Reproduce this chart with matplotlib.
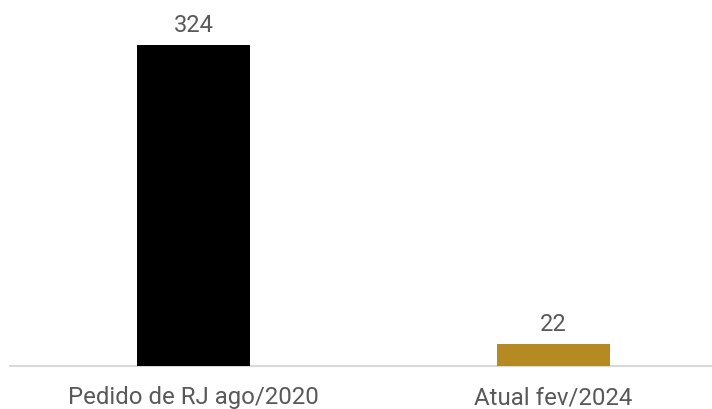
import matplotlib
matplotlib.use('Agg')
import matplotlib.pyplot as plt

# Chart data
categories = ["Pedido de RJ ago/2020", "Atual fev/2024"]
values = [324, 22]
bar_colors = ["#000000", "#b68a22"]

TEXT_COLOR = "#595959"
plt.rcParams['font.family'] = ['Roboto', 'DejaVu Sans']

fig = plt.figure(figsize=(7.12, 4.10), dpi=100)
ax = fig.add_axes([10 / 712, 43 / 410, 702 / 712, 367 / 410])

x = list(range(len(categories)))
bars = ax.bar(x, values, color=bar_colors, width=0.314, zorder=3)

for bar, val in zip(bars, values):
    ax.annotate(f"{val}", (bar.get_x() + bar.get_width() / 2, bar.get_height()),
                textcoords="offset points", xytext=(0, 10), ha='center', va='baseline',
                fontsize=17, color=TEXT_COLOR)

ax.set_xlim(-0.51, 1.44)
ax.set_ylim(0, 370.4)

for side in ['left', 'right', 'top']:
    ax.spines[side].set_visible(False)
ax.spines['bottom'].set_color('#d9d9d9')
ax.spines['bottom'].set_linewidth(1.5)

ax.set_yticks([])
ax.set_xticks(x)
ax.set_xticklabels(categories, fontsize=17.3, color=TEXT_COLOR)
ax.tick_params(axis='x', length=0, pad=14)

fig.savefig("out.png", dpi=100, facecolor='white')
